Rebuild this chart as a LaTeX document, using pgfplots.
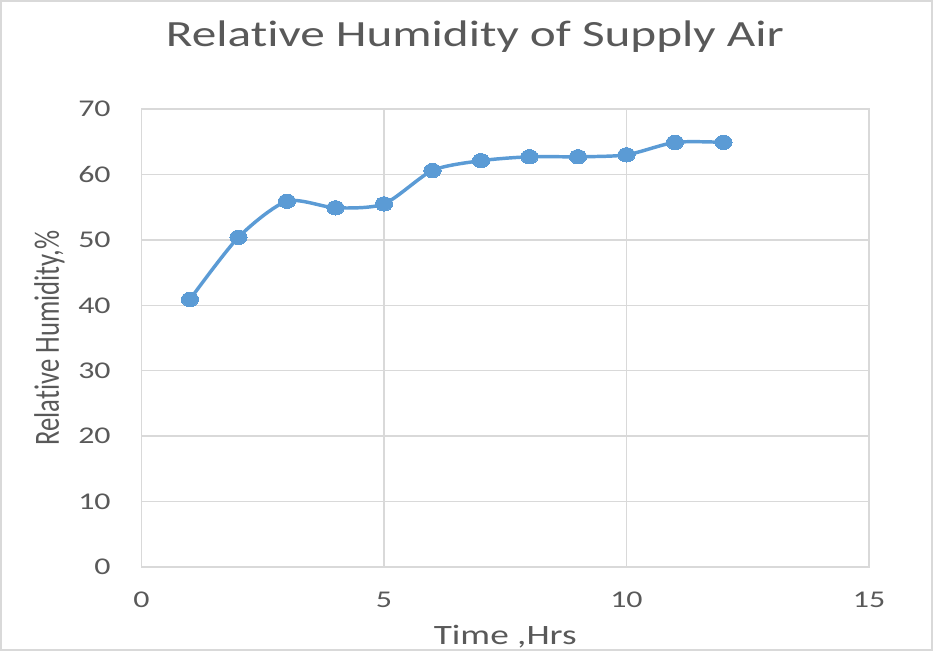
\documentclass[border=0pt]{standalone}
\usepackage{fontspec}
\setmainfont{Carlito}[FakeStretch=1.33, Ligatures=NoCommon]
\newfontfamily\ylfont{Carlito}[Ligatures=NoCommon]
\usepackage{graphicx}
\usepackage{pgfplots}
\pgfplotsset{compat=1.18}
\definecolor{txt}{HTML}{595959}
\definecolor{grd}{HTML}{D9D9D9}
\definecolor{ser}{HTML}{5B9BD5}
\begin{document}
\begin{tikzpicture}
\useasboundingbox (-106.1pt,-63.75pt) rectangle (593.6pt,425.25pt);
\draw[grd, line width=1.5pt] (-105.3pt,-62pt) rectangle (592.8pt,424.5pt);
\begin{axis}[
 at={(0,0)}, anchor=origin,
 scale only axis, width=545.6pt, height=343.5pt,
 xmin=0,xmax=15,ymin=0,ymax=70,
 xtick={0,5,10,15}, ytick={0,10,...,70},
 grid=major, major grid style={grd, line width=1.1pt},
 axis line style={grd, line width=1.1pt},
 major tick length=0pt,
 tick label style={font=\fontsize{18}{18}\selectfont, text=txt, inner sep=0pt},
 /pgf/number format/assume math mode=true,
 xticklabel style={anchor=base, yshift=-30.4pt},
 yticklabel style={anchor=east, xshift=-22.9pt},
 title={Relative Humidity of Supply Air},
 title style={font=\fontsize{27.75}{28}\selectfont, text=txt, at={(axis description cs:0.5,1)}, anchor=base, yshift=40.5pt, xshift=-22.7pt, inner sep=0pt},
 xlabel={Time ,Hrs},
 xlabel style={font=\fontsize{21}{21}\selectfont, text=txt, at={(axis description cs:0.5,0)}, anchor=base, yshift=-57.75pt, inner sep=0pt},
 every axis y label/.style={at={(axis description cs:0,0.5)}, xshift=-69pt, rotate=90, anchor=center, font=\ylfont\fontsize{20}{20}\selectfont, text=txt, inner sep=0pt},
 ylabel={\scalebox{1}[1.33]{Relative Humidity,\%}},
 clip=false,
]
\addplot[ser, line width=2.6pt, smooth, tension=0.45, mark=*, mark size=5.4pt, mark options={fill=ser, draw=ser, line width=0pt, xscale=1.2}] coordinates {(1,40.9)(2,50.4)(3,55.9)(4,54.9)(5,55.5)(6,60.6)(7,62.1)(8,62.7)(9,62.7)(10,63.0)(11,64.9)(12,64.9)};
\end{axis}
\end{tikzpicture}
\end{document}
